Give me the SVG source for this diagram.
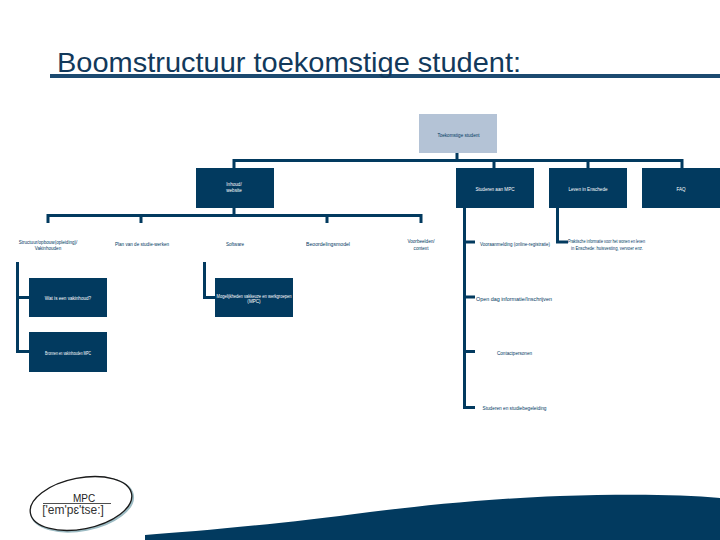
<svg xmlns="http://www.w3.org/2000/svg" width="720" height="540" viewBox="0 0 720 540">
<style>
text{font-family:"Liberation Sans",Arial,sans-serif}
.n{fill:#023a5f}
.l{fill:#b4c3d6}
.w{fill:#fff;font-size:4.6px;text-anchor:middle}
.d{fill:#023a5f;font-size:4.6px;text-anchor:middle}
.c{fill:none;stroke:#023a5f;stroke-width:3}
</style>
<rect width="720" height="540" fill="#fff"/>
<g id="title">
<rect x="50" y="74" width="670" height="4" fill="#1c4a70"/>
<text x="57" y="72" font-size="28.500" fill="#12395b" textLength="464" lengthAdjust="spacingAndGlyphs">Boomstructuur toekomstige student:</text>
</g>
<g id="connectors">
<path class="c" d="M457 153V160.500M234 168V160.500H682V168M494 160.500V168M588 160.500V168"/>
<path class="c" d="M234 208V215.500M48 223V215.500H421V223M141 215.500V223M327 215.500V223"/>
<path class="c" d="M17.500 262V351.500H29M17.500 297.500H29"/>
<path class="c" d="M204.500 262V297.500H215"/>
<path class="c" d="M464.500 208V407.500H475M464.500 242H475M464.500 297H475M464.500 351.500H475"/>
<path class="c" d="M557.500 208V242H568"/>
</g>
<g id="n-root"><rect class="l" x="419" y="114" width="78" height="39"/><text class="d" x="458.500" y="137">Toekomstige student</text></g>
<g id="n-inhoud"><rect class="n" x="196" y="168" width="78" height="40"/><text class="w" x="234" y="186">Inhoud/</text><text class="w" x="234" y="192">website</text></g>
<g id="n-studeren"><rect class="n" x="456" y="168" width="78" height="40"/><text class="w" x="495" y="191">Studeren aan MPC</text></g>
<g id="n-leven"><rect class="n" x="549" y="168" width="78" height="40"/><text class="w" x="588" y="191">Leven in Enschede</text></g>
<g id="n-faq"><rect class="n" x="642" y="168" width="78" height="40"/><text class="w" x="681" y="191">FAQ</text></g>
<g id="n-structuur"><text class="d" x="48" y="244">Structuur/opbouw(opleiding)/</text><text class="d" x="48" y="249.500">Vakinhouden</text></g>
<g id="n-plan"><text class="d" x="142" y="246">Plan van de studie-werken</text></g>
<g id="n-software"><text class="d" x="235" y="246">Software</text></g>
<g id="n-beoordeling"><text class="d" x="328" y="246" textLength="44" lengthAdjust="spacingAndGlyphs">Beoordelingsmodel</text></g>
<g id="n-voorbeelden"><text class="d" x="421" y="243">Voorbeelden/</text><text class="d" x="421" y="250">context</text></g>
<g id="n-voor"><text class="d" x="515" y="246" textLength="70" lengthAdjust="spacingAndGlyphs">Vooraanmelding (online-registratie)</text></g>
<g id="n-wat"><rect class="n" x="29" y="278" width="78" height="39"/><text class="w" x="68" y="300">Wat is een vakinhoud?</text></g>
<g id="n-bron"><rect class="n" x="29" y="332" width="78" height="40"/><text class="w" x="68" y="355" textLength="46" lengthAdjust="spacingAndGlyphs">Bronnen en vakinhouden MPC</text></g>
<g id="n-mpc"><rect class="n" x="215" y="278" width="78" height="39"/><text class="w" x="254" y="297.500" textLength="75" lengthAdjust="spacingAndGlyphs">Mogelijkheden vakkeuze en werkgroepen</text><text class="w" x="254" y="303">(MPC)</text></g>
<g id="n-open"><text class="d" x="514" y="301" textLength="76" lengthAdjust="spacingAndGlyphs">Open dag informatie/Inschrijven</text></g>
<g id="n-contact"><text class="d" x="514.500" y="355">Contactpersonen</text></g>
<g id="n-studiebeg"><text class="d" x="514.500" y="410" textLength="64" lengthAdjust="spacingAndGlyphs">Studeren en studiebegeleiding</text></g>
<g id="n-info"><text class="d" x="606.500" y="243" textLength="77" lengthAdjust="spacingAndGlyphs">Praktische informatie voor het wonen en leven</text><text class="d" x="607" y="249.500" textLength="72" lengthAdjust="spacingAndGlyphs">in Enschede: huisvesting, vervoer enz.</text></g>
<g id="logo">
<ellipse cx="82" cy="504.500" rx="51.500" ry="25.500" transform="rotate(-11 82 504.500)" fill="#fff" stroke="#9dbcc4" stroke-width="2.500"/>
<ellipse cx="81" cy="503.500" rx="51.500" ry="25.500" transform="rotate(-11 81 503.500)" fill="#fff" stroke="#1a1a1a" stroke-width="1.300"/>
<text x="84" y="502" font-size="10" text-anchor="middle" fill="#222">MPC</text>
<path d="M43 503.500H111" stroke="#222" stroke-width="0.800"/>
<text x="73" y="514" font-size="12" text-anchor="middle" fill="#333">['em'pɛ'tse:]</text>
</g>
<path id="wave" class="n" fill="#023a5f" d="M145 540V535C200 531 280 524 370 512C420 506 480 499 560 496C620 494 680 494 720 498V540Z"/>
</svg>
